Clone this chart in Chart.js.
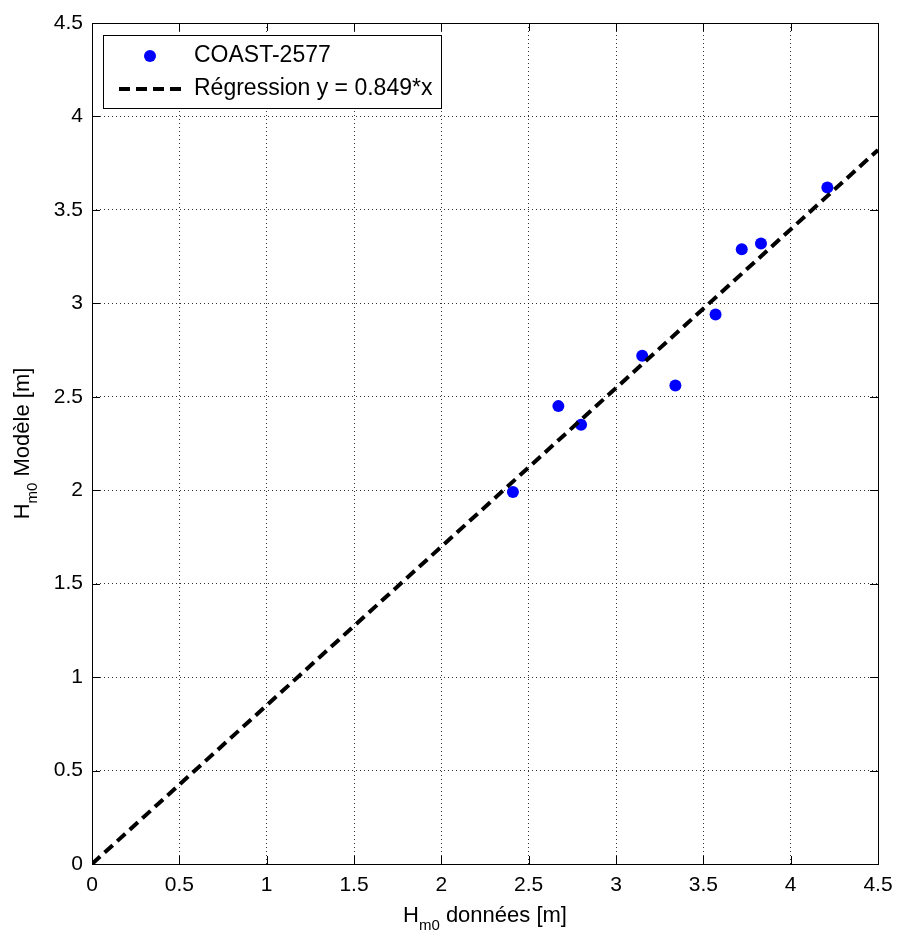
<!DOCTYPE html>
<html>
<head>
<meta charset="utf-8">
<script src="https://cdn.jsdelivr.net/npm/chart.js@4"></script>
<style>
  html, body { margin: 0; padding: 0; background: #fff; }
  #graphique { display: block; }
</style>
</head>
<body>
<canvas id="graphique" width="898" height="936"></canvas>
<script>
// Hm0 mesuré (données) et Hm0 calculé (modèle), en mètres
const hm0Donnees = [2.41, 2.67, 2.80, 3.15, 3.34, 3.57, 3.72, 3.83, 4.21];
const hm0Modele  = [1.99, 2.45, 2.35, 2.72, 2.56, 2.94, 3.29, 3.32, 3.62];

// droite de régression passant par l'origine
const pente = 0.849;
const regX = [0, 4.5];

const valeursTicks = [0, 0.5, 1, 1.5, 2, 2.5, 3, 3.5, 4, 4.5];
const textesTicks  = ['0', '0.5', '1', '1.5', '2', '2.5', '3', '3.5', '4', '4.5'];

const nomSerie = 'COAST-2577';
const nomRegression = 'Régression y = ' + pente + '*x';

const POLICE = "'Liberation Sans', Arial, sans-serif";
const BLEU = '#0000ff';
const TIRETS = [11, 6];

// 🎯 Texte avec indice (H + m0 + suite)
function texteIndice(ctx, x, y, base, indice, suite, decalage) {
  ctx.font = '22px ' + POLICE;
  const wBase = ctx.measureText(base).width;
  const wSuite = ctx.measureText(suite).width;
  ctx.font = '15px ' + POLICE;
  const wIndice = ctx.measureText(indice).width;
  let x0 = x - (wBase + wIndice + wSuite) / 2;
  ctx.textAlign = 'left';
  ctx.textBaseline = 'alphabetic';
  ctx.font = '22px ' + POLICE;
  ctx.fillText(base, x0, y);
  x0 += wBase;
  ctx.font = '15px ' + POLICE;
  ctx.fillText(indice, x0, y + decalage);
  x0 += wIndice;
  ctx.font = '22px ' + POLICE;
  ctx.fillText(suite, x0, y);
}

// 🎯 Cadre, graduations intérieures, légende et titres des axes
const cadreMatlab = {
  id: 'cadreMatlab',
  afterDraw(chart) {
    const ctx = chart.ctx;
    const a = chart.chartArea;
    const sx = chart.scales.x;
    const sy = chart.scales.y;
    const lt = 8;

    ctx.save();
    ctx.strokeStyle = '#000';
    ctx.lineWidth = 1;
    ctx.setLineDash([]);
    ctx.beginPath();
    valeursTicks.forEach(v => {
      const px = Math.round(sx.getPixelForValue(v)) + 0.5;
      ctx.moveTo(px, a.bottom); ctx.lineTo(px, a.bottom - lt);
      ctx.moveTo(px, a.top); ctx.lineTo(px, a.top + lt);
      const py = Math.round(sy.getPixelForValue(v)) + 0.5;
      ctx.moveTo(a.left, py); ctx.lineTo(a.left + lt, py);
      ctx.moveTo(a.right, py); ctx.lineTo(a.right - lt, py);
    });
    ctx.stroke();
    ctx.strokeRect(Math.round(a.left) + 0.5, Math.round(a.top) + 0.5,
      Math.round(a.right - a.left), Math.round(a.bottom - a.top));

    // légende
    const lx = a.left + 11, ly = a.top + 12, lw = 338, lh = 73;
    ctx.fillStyle = '#fff';
    ctx.fillRect(lx, ly, lw, lh);
    ctx.strokeRect(Math.round(lx) + 0.5, Math.round(ly) + 0.5, lw, lh);

    ctx.fillStyle = BLEU;
    ctx.beginPath();
    ctx.arc(lx + 47, ly + 21, 6, 0, Math.PI * 2);
    ctx.fill();

    ctx.strokeStyle = '#000';
    ctx.lineWidth = 4;
    ctx.setLineDash(TIRETS);
    ctx.beginPath();
    ctx.moveTo(lx + 16, ly + 54);
    ctx.lineTo(lx + 84, ly + 54);
    ctx.stroke();
    ctx.setLineDash([]);

    ctx.fillStyle = '#000';
    ctx.font = '23px ' + POLICE;
    ctx.textAlign = 'left';
    ctx.textBaseline = 'middle';
    ctx.fillText(nomSerie, lx + 91, ly + 21);
    ctx.fillText(nomRegression, lx + 91, ly + 54);

    // titres des axes
    texteIndice(ctx, (a.left + a.right) / 2, 922, 'H', 'm0', ' données [m]', 8);
    ctx.translate(29, (a.top + a.bottom) / 2);
    ctx.rotate(-Math.PI / 2);
    texteIndice(ctx, 0, 0, 'H', 'm0', ' Modèle [m]', 8);
    ctx.restore();
  }
};

function axe(largeur, hauteur, padding) {
  return {
    type: 'linear',
    min: 0,
    max: 4.5,
    afterBuildTicks: s => { s.ticks = valeursTicks.map(v => ({ value: v })); },
    afterFit: s => {
      if (largeur) s.width = largeur;
      if (hauteur) s.height = hauteur;
      s.paddingLeft = 0;
      s.paddingRight = 0;
      s.paddingTop = 0;
      s.paddingBottom = 0;
    },
    ticks: {
      color: '#000',
      padding: padding,
      maxRotation: 0,
      autoSkip: false,
      font: { family: POLICE, size: 21 },
      callback: (v, i) => textesTicks[i]
    },
    grid: {
      color: 'rgba(0,0,0,0.8)',
      lineWidth: 1,
      drawTicks: false,
      tickLength: 0
    },
    border: { display: false, dash: [1, 3] }
  };
}

window.addEventListener('DOMContentLoaded', function () {
  const ctx = document.getElementById('graphique').getContext('2d');
  new Chart(ctx, {
    type: 'scatter',
    data: {
      datasets: [
        {
          label: nomSerie,
          data: hm0Donnees.map((x, i) => ({ x: x, y: hm0Modele[i] })),
          backgroundColor: BLEU,
          borderWidth: 0,
          pointRadius: 6,
          order: 1
        },
        {
          type: 'line',
          label: nomRegression,
          data: regX.map(x => ({ x: x, y: pente * x })),
          borderColor: '#000',
          borderWidth: 4,
          borderDash: TIRETS,
          pointRadius: 0,
          fill: false,
          order: 0
        }
      ]
    },
    options: {
      responsive: false,
      animation: false,
      layout: { padding: { top: 23, right: 20, left: 0, bottom: 0 } },
      plugins: {
        legend: { display: false },
        tooltip: { enabled: false }
      },
      scales: {
        x: axe(null, 72, 9),
        y: axe(92, null, 9)
      }
    },
    plugins: [cadreMatlab]
  });
});
</script>
</body>
</html>
